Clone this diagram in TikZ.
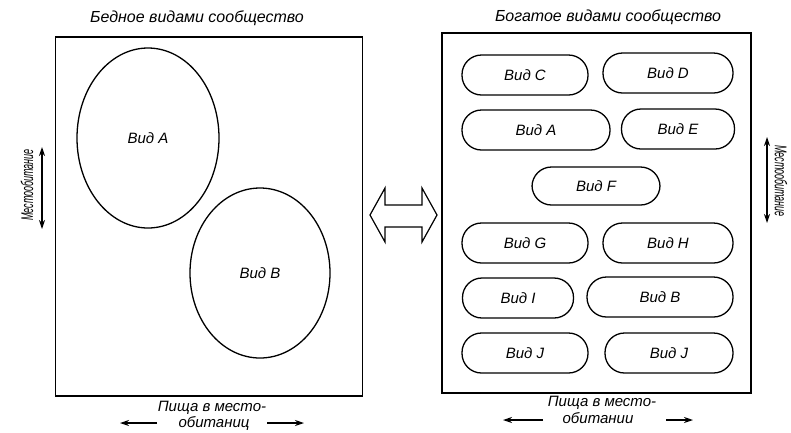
\documentclass[tikz,border=0pt]{standalone}
\usepackage{fontspec}
\setmainfont{Liberation Sans}
\newfontfamily\narrowfont{Liberation Sans}[FakeStretch=0.53]
\usetikzlibrary{shapes.geometric,arrows.meta}
\begin{document}
\begin{tikzpicture}[x=1pt,y=-1pt,
  lbl/.style={font=\fontsize{15}{16}\selectfont\itshape, inner sep=0pt},
  ttl/.style={font=\fontsize{16}{17}\selectfont\itshape, inner sep=0pt},
  vlbl/.style={font=\narrowfont\fontsize{17}{18}\selectfont\itshape, inner sep=0pt},
  frame/.style={draw, line width=1.5pt},
  oval/.style={draw, ellipse, line width=1.3pt, inner sep=0pt, font=\fontsize{15}{16}\selectfont\itshape},
  pill/.style={draw, rectangle, rounded corners=19.5pt, line width=1.3pt, minimum height=40pt, inner sep=0pt, font=\fontsize{15}{16}\selectfont\itshape},
  axis/.style={line width=1.2pt, {Stealth[length=9pt,width=6pt]}-{Stealth[length=9pt,width=6pt]}},
  harrow/.style={line width=1.4pt, -{Stealth[length=9pt,width=6pt]}}
]
\useasboundingbox[fill=white] (0,0) rectangle (791,432);

% left panel
\node[frame, minimum width=307pt, minimum height=359pt, inner sep=0pt] (boxL) at (209,216.5) {};
\node[ttl] (titleL) at (197,18) {Бедное видами сообщество};
\node[oval, minimum width=142pt, minimum height=180pt] (spA) at (148,138) {Вид A};
\node[oval, minimum width=140pt, minimum height=170pt] (spB) at (260,273) {Вид B};

\node[vlbl, rotate=90] (habL) at (27,185) {Местообитание};
\coordinate (habLt) at (42,147);
\coordinate (habLb) at (42,229);
\draw[axis] (habLt) -- (habLb);

\node[lbl] (foodL1) at (212,408) {Пища в место-};
\node[lbl] (foodL2) at (214,423) {обитаниц};
\coordinate (fLa) at (157,423); \coordinate (fLb) at (120,423);
\coordinate (fLc) at (267,423); \coordinate (fLd) at (304,423);
\draw[harrow] (fLa) -- (fLb);
\draw[harrow] (fLc) -- (fLd);

% right panel
\node[frame, minimum width=309pt, minimum height=360pt, inner sep=0pt] (boxR) at (596.5,213) {};
\node[ttl] (titleR) at (608,17) {Богатое видами сообщество};

\node[pill, minimum width=126pt] (C) at (525,75) {Вид C};
\node[pill, minimum width=130pt] (D) at (668,73) {Вид D};
\node[pill, minimum width=148pt] (A2) at (536,130) {Вид A};
\node[pill, minimum width=113pt] (E) at (678,129) {Вид E};
\node[pill, minimum width=128pt, minimum height=38pt] (F) at (596,186) {Вид F};
\node[pill, minimum width=126pt] (G) at (525,243) {Вид G};
\node[pill, minimum width=130pt] (H) at (668,243) {Вид H};
\node[pill, minimum width=111pt] (I) at (518,298) {Вид I};
\node[pill, minimum width=146pt] (B2) at (660,297) {Вид B};
\node[pill, minimum width=126pt] (J1) at (525,353) {Вид J};
\node[pill, minimum width=128pt] (J2) at (669,353) {Вид J};

\node[vlbl, rotate=-90] (habR) at (781,181) {Местообитание};
\coordinate (habRt) at (767,137);
\coordinate (habRb) at (767,223);
\draw[axis] (habRt) -- (habRb);

\node[lbl] (foodR1) at (602,403) {Пища в место-};
\node[lbl] (foodR2) at (598,418) {обитании};
\coordinate (fRa) at (543,420); \coordinate (fRb) at (503,420);
\coordinate (fRc) at (666,420); \coordinate (fRd) at (693,420);
\draw[harrow] (fRa) -- (fRb);
\draw[harrow] (fRc) -- (fRd);

% central double outline arrow
\draw[line width=1.2pt, line join=miter] (370,215) -- (385,188) -- (385,205) -- (422,205) -- (422,188) -- (437,215) -- (422,242) -- (422,227) -- (385,227) -- (385,242) -- cycle;
\end{tikzpicture}
\end{document}
